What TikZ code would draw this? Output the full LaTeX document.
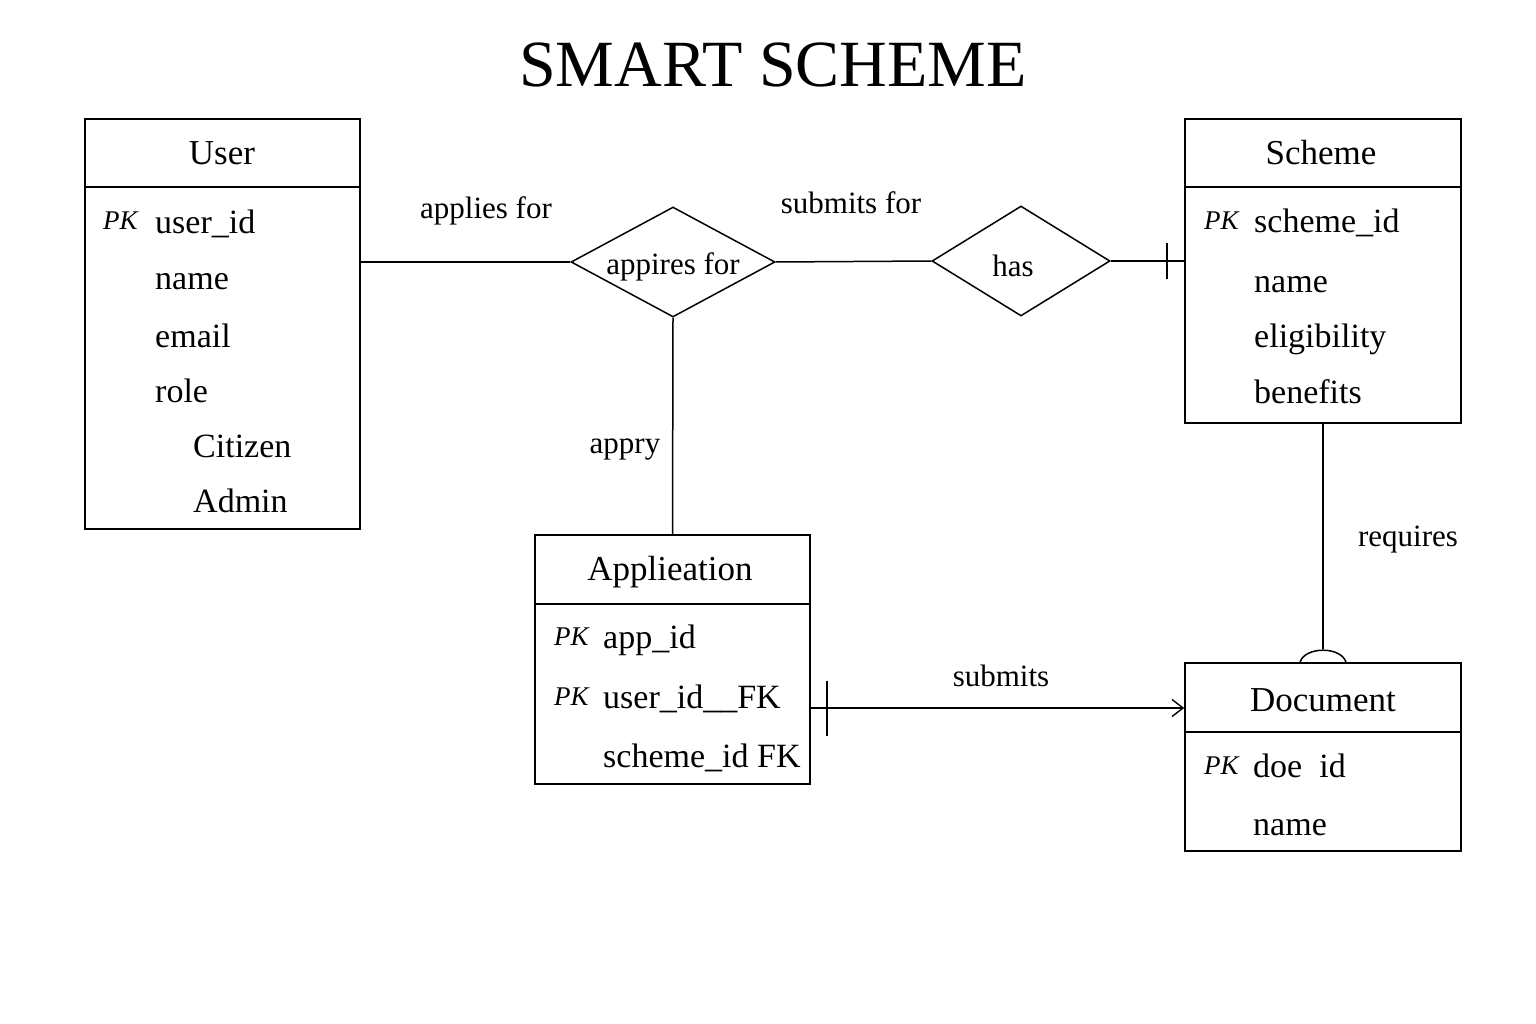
\documentclass[tikz,border=0pt]{standalone}
\usepackage{fontspec}
\setmainfont{Liberation Serif}
\usetikzlibrary{arrows.meta,positioning,shapes.geometric}

\begin{document}
\begin{tikzpicture}[x=1pt,y=-1pt,
    entity/.style={draw,line width=1.6pt,inner sep=0pt},
    ehead/.style={anchor=base,font=\fontsize{35}{40}\selectfont},
    attr/.style={anchor=base west,inner sep=0pt,font=\fontsize{34}{40}\selectfont},
    pk/.style={anchor=base west,inner sep=0pt,font=\fontsize{27}{30}\selectfont\itshape},
    rel/.style={draw,diamond,line width=1.5pt,inner sep=0pt,aspect=1.85,font=\fontsize{31}{36}\selectfont},
    lbl/.style={font=\fontsize{31}{36}\selectfont},
    link/.style={line width=1.5pt}]
  \fill[white] (0,0) rectangle (1536,1024);
  \useasboundingbox (0,0) rectangle (1536,1024);

  \node[font=\fontsize{66}{72}\selectfont] (title) at (773,65) {SMART SCHEME};

  % entities
  \node[entity,minimum width=275pt,minimum height=410pt] (user) at (222.5,324) {};
  \draw[link] ([yshift=-69pt]user.north west) -- ([yshift=-69pt]user.north east);
  \node[ehead] (user-name) at (222,165) {User};
  \node[pk] (user-pk) at (103,230) {PK};
  \node[attr] (user-a1) at (155,234) {user\_id};
  \node[attr] (user-a2) at (155,290) {name};
  \node[attr] (user-a3) at (155,347) {email};
  \node[attr] (user-a4) at (155,402) {role};
  \node[attr] (user-a5) at (193,457) {Citizen};
  \node[attr] (user-a6) at (193,512) {Admin};

  \node[entity,minimum width=276pt,minimum height=304pt] (scheme) at (1323,271) {};
  \draw[link] ([yshift=-69pt]scheme.north west) -- ([yshift=-69pt]scheme.north east);
  \node[ehead] (scheme-name) at (1321,165) {Scheme};
  \node[pk] (scheme-pk) at (1204,230) {PK};
  \node[attr] (scheme-a1) at (1254,233) {scheme\_id};
  \node[attr] (scheme-a2) at (1254,293) {name};
  \node[attr] (scheme-a3) at (1254,347) {eligibility};
  \node[attr] (scheme-a4) at (1254,403) {benefits};

  \node[entity,minimum width=275pt,minimum height=249pt] (app) at (672.5,659.5) {};
  \draw[link] ([yshift=-70pt]app.north west) -- ([yshift=-70pt]app.north east);
  \node[ehead] (app-name) at (670,580) {Applieation};
  \node[pk] (app-pk1) at (554,645) {PK};
  \node[attr] (app-a1) at (603,648) {app\_id};
  \node[pk] (app-pk2) at (554,705) {PK};
  \node[attr] (app-a2) at (603,708) {user\_id\_\_FK};
  \node[attr] (app-a3) at (603,767) {scheme\_id FK};

  \node[entity,minimum width=276pt,minimum height=188pt] (doc) at (1323,757) {};
  \draw[link] ([yshift=-70pt]doc.north west) -- ([yshift=-70pt]doc.north east);
  \node[ehead] (doc-name) at (1323,711) {Document};
  \node[pk] (doc-pk) at (1204,774) {PK};
  \node[attr] (doc-a1) at (1253,777) {doe\ \ id};
  \node[attr] (doc-a2) at (1253,835) {name};

  % relationships
  \node[rel,minimum width=204pt,minimum height=110pt] (apply) at (673,262) {\raisebox{-5pt}[\height][\depth]{appires for}};
  \node[rel,minimum width=178pt,minimum height=110pt] (has) at (1021,261) {\hspace*{-16pt}\raisebox{-5pt}[\height][\depth]{has}};

  % connectors
  \draw[link] (user.east |- apply.west) -- (apply.west);
  \draw[link] (apply.east) -- (has.west);
  \coordinate (scheme-in) at (has.east -| scheme.west);
  \draw[link] (has.east) -- (scheme-in);
  \draw[link] ([shift={(-17pt,18pt)}]scheme-in) -- ([shift={(-17pt,-18pt)}]scheme-in);
  \draw[link] (apply.south) -- (app.north);
  \draw[link,-{Straight Barb[length=11pt,width=17pt,line width=1.4pt]}] ([yshift=-48.5pt]app.east) -- ([yshift=49pt]doc.west);
  \draw[link] ([shift={(16pt,-21pt)}]app.east) -- ([shift={(16pt,-76pt)}]app.east);
  \draw[link] (scheme.south) -- ([yshift=13pt]doc.north);
  \draw[link] ([xshift=-23pt]doc.north) .. controls +(5,-16) and +(-5,-16) .. ([xshift=23pt]doc.north);

  % labels
  \node[lbl] (lbl-applies) at (486,211) {applies for};
  \node[lbl] (lbl-subfor) at (851,203) {submits for};
  \node[lbl] (lbl-appry) at (625,450) {appry};
  \node[lbl] (lbl-requires) at (1408,540) {requires};
  \node[lbl] (lbl-submits) at (1001,676) {submits};
\end{tikzpicture}
\end{document}
